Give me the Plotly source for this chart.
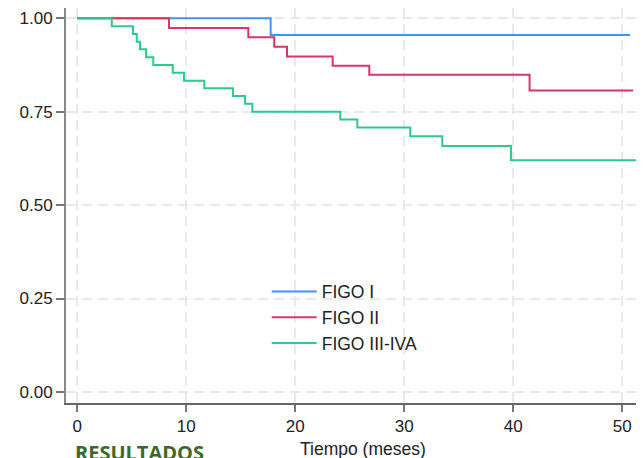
import plotly.graph_objects as go

# ---- data ----
figo1_t = [0, 17.74, 50.73]
figo1_s = [1.0, 0.955, 0.955]

figo2_t = [0, 8.41, 15.69, 18.07, 19.24, 23.43, 26.79, 41.5, 51.0]
figo2_s = [1.0, 0.974, 0.949, 0.924, 0.898, 0.873, 0.849, 0.807, 0.807]

figo3_t = [0, 3.16, 5.11, 5.45, 5.75, 6.31, 6.97, 8.75, 9.79, 11.65, 14.28,
           15.39, 16.06, 24.13, 25.69, 30.55, 33.49, 39.79, 52.5]
figo3_s = [1.0, 0.979, 0.958, 0.9375, 0.917, 0.896, 0.875, 0.854, 0.833, 0.8125,
           0.792, 0.771, 0.75, 0.729, 0.708, 0.684, 0.658, 0.620, 0.620]

series_names = ["FIGO I", "FIGO II", "FIGO III-IVA"]
series_colors = ["#3f94f7", "#dd3466", "#2bcc8a"]

x_ticks = [0, 10, 20, 30, 40, 50]
y_ticks = [0.0, 0.25, 0.5, 0.75, 1.0]
y_tick_labels = ["0.00", "0.25", "0.50", "0.75", "1.00"]

x_title = "Tiempo (meses)"
overlay_text = "RESULTADOS"

# the page body adds an 8px offset; the figure is laid out to compensate
W, H = 636, 450
ML, MR, MT, MB = 58, 0, 0, 55
PW, PH = W - ML - MR, H - MT - MB


def px_x(px):
    return (px - 8 - ML) / PW


def px_y(py):
    return (H - MB - (py - 8)) / PH


fig = go.Figure()
for t, s, name, col in zip([figo1_t, figo2_t, figo3_t], [figo1_s, figo2_s, figo3_s],
                           series_names, series_colors):
    fig.add_trace(go.Scatter(x=t, y=s, mode="lines", name=name, legendgroup=name,
                             line=dict(color=col, width=2, shape="hv")))

font_family = "Arial, Liberation Sans, sans-serif"
fig.update_layout(
    width=W, height=H,
    margin=dict(l=ML, r=MR, t=MT, b=MB, pad=0),
    paper_bgcolor="white", plot_bgcolor="white",
    font=dict(family=font_family, size=17, color="#222"),
    showlegend=True,
    legend=dict(x=px_x(266.7), y=px_y(273.5), xanchor="left", yanchor="top",
                bgcolor="rgba(0,0,0,0)", borderwidth=0,
                font=dict(size=17.5, color="#222"),
                tracegroupgap=0, itemwidth=45),
    xaxis=dict(range=[-1.04, 52.0], tickvals=x_ticks, ticks="outside", ticklen=7,
               tickwidth=1.5, tickcolor="#777", showline=True, linecolor="#666",
               linewidth=1.8, showgrid=True, gridcolor="#e9e9e9", gridwidth=1.5,
               griddash="10px,6px", zeroline=False, tickfont=dict(size=17)),
    yaxis=dict(range=[-0.0297, 1.0276], tickvals=y_ticks, ticktext=y_tick_labels,
               ticks="outside", ticklen=8, tickwidth=1.5, tickcolor="#777",
               showline=True, linecolor="#888", linewidth=1.8, showgrid=True,
               gridcolor="#e9e9e9", gridwidth=1.5, griddash="10px,6px",
               zeroline=False, tickfont=dict(size=17)),
)

fig.add_annotation(text=x_title, xref="paper", yref="paper",
                   x=px_x(363), y=px_y(449),
                   xanchor="center", yanchor="middle", showarrow=False,
                   font=dict(size=17.5, color="#222", family=font_family))
fig.add_annotation(text="<b>" + overlay_text + "</b>", xref="paper", yref="paper",
                   x=px_x(73), y=px_y(436.5),
                   xanchor="left", yanchor="top", showarrow=False,
                   font=dict(size=20, color="#3a6a2a", family="Open Sans, sans-serif"))

fig.write_html("out.html")
